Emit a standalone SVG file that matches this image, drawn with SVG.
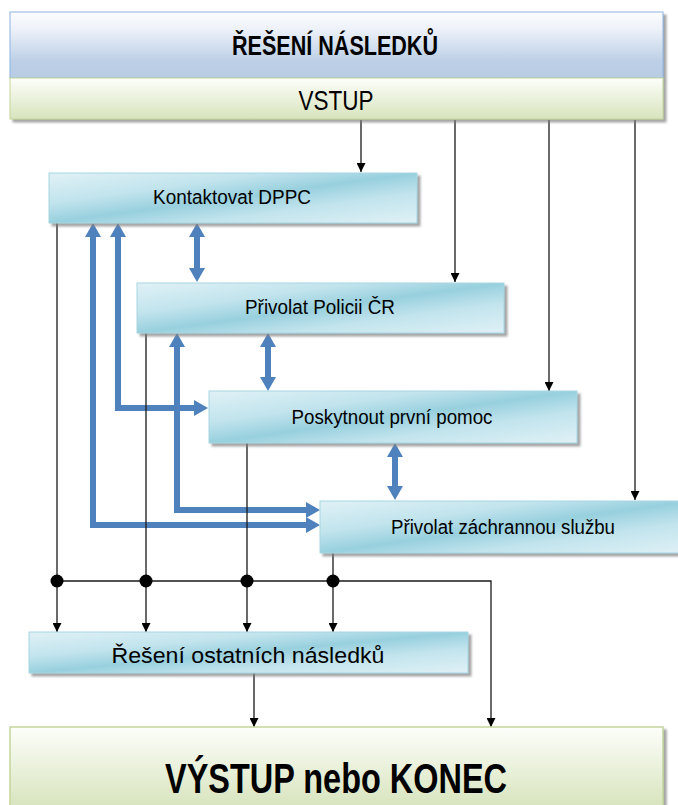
<svg xmlns="http://www.w3.org/2000/svg" width="678" height="805" viewBox="0 0 678 805">
<defs>
  <linearGradient id="gBlue" x1="0" y1="0" x2="0" y2="1">
    <stop offset="0" stop-color="#fbfcfe"/>
    <stop offset="0.25" stop-color="#eef2f9"/>
    <stop offset="0.75" stop-color="#bccfe6"/>
    <stop offset="1" stop-color="#b8cce4"/>
  </linearGradient>
  <linearGradient id="gGreen" x1="0" y1="0" x2="0" y2="1">
    <stop offset="0" stop-color="#fdfefa"/>
    <stop offset="1" stop-color="#d7e4bd"/>
  </linearGradient>
  <linearGradient id="gGreenBig" x1="0" y1="0" x2="0" y2="1">
    <stop offset="0" stop-color="#fdfefa"/>
    <stop offset="1" stop-color="#d3e1b6"/>
  </linearGradient>
  <linearGradient id="gTeal" x1="0" y1="0" x2="1" y2="1">
    <stop offset="0" stop-color="#e0f1f6"/>
    <stop offset="0.3" stop-color="#c2e4ed"/>
    <stop offset="0.5" stop-color="#98d0de"/>
    <stop offset="0.7" stop-color="#c2e4ed"/>
    <stop offset="1" stop-color="#e0f1f6"/>
  </linearGradient>
  <filter id="shadow" x="-5%" y="-20%" width="115%" height="150%">
    <feDropShadow dx="3" dy="3" stdDeviation="1" flood-color="#7f7f7f" flood-opacity="0.7"/>
  </filter>
  <marker id="ablk" viewBox="0 0 10 10" refX="10" refY="5" markerWidth="9" markerHeight="9" markerUnits="userSpaceOnUse" orient="auto">
    <path d="M0,0 L10,5 L0,10 z" fill="#000"/>
  </marker>
  <marker id="ablu" viewBox="0 0 14 16" refX="0" refY="8" markerWidth="14" markerHeight="16" markerUnits="userSpaceOnUse" orient="auto-start-reverse">
    <path d="M0,0 L14,8 L0,16 z" fill="#4f81bd"/>
  </marker>
  <style>
    .lbl { font-family: "Liberation Sans Narrow", "Liberation Sans", Arial, sans-serif; fill: #000; text-anchor: middle; }
    .teal { fill: url(#gTeal); stroke: #a5d5e2; stroke-width: 1; filter: url(#shadow); }
    .blk { fill: none; stroke: #1a1a1a; stroke-width: 1.3; }
    .blu { fill: none; stroke: #4f81bd; stroke-width: 6; stroke-linejoin: miter; }
    .dot { fill: #000; }
  </style>
</defs>

<g id="connectors">
  <!-- blue interaction arrows -->
  <path class="blu" d="M197,237 L197,268" marker-start="url(#ablu)" marker-end="url(#ablu)"/>
  <path class="blu" d="M268,347 L268,377" marker-start="url(#ablu)" marker-end="url(#ablu)"/>
  <path class="blu" d="M395,457 L395,486" marker-start="url(#ablu)" marker-end="url(#ablu)"/>
  <path class="blu" d="M93,237 L93,525 L306,525" marker-start="url(#ablu)" marker-end="url(#ablu)"/>
  <path class="blu" d="M118,237 L118,408 L194,408" marker-start="url(#ablu)" marker-end="url(#ablu)"/>
  <path class="blu" d="M177,347 L177,510 L306,510" marker-start="url(#ablu)" marker-end="url(#ablu)"/>
  <!-- black flow lines -->
  <path class="blk" d="M361,120 L361,172" marker-end="url(#ablk)"/>
  <path class="blk" d="M455,120 L455,282" marker-end="url(#ablk)"/>
  <path class="blk" d="M549,120 L549,391" marker-end="url(#ablk)"/>
  <path class="blk" d="M635,120 L635,500" marker-end="url(#ablk)"/>
  <path class="blk" d="M57,223 L57,632" marker-end="url(#ablk)"/>
  <path class="blk" d="M146,333 L146,632" marker-end="url(#ablk)"/>
  <path class="blk" d="M247,443 L247,632" marker-end="url(#ablk)"/>
  <path class="blk" d="M333,553 L333,632" marker-end="url(#ablk)"/>
  <path class="blk" d="M57,581 L491,581 L491,727" marker-end="url(#ablk)"/>
  <path class="blk" d="M254,673 L254,727" marker-end="url(#ablk)"/>
  <circle class="dot" cx="57" cy="581" r="6.5"/>
  <circle class="dot" cx="146" cy="581" r="6.5"/>
  <circle class="dot" cx="247" cy="581" r="6.5"/>
  <circle class="dot" cx="333" cy="581" r="6.5"/>
</g>

<g id="header">
  <g filter="url(#shadow)">
    <rect x="10" y="12" width="653" height="66" fill="url(#gBlue)" stroke="#8eb4e3" stroke-width="1"/>
    <rect x="10" y="78" width="653" height="41" fill="url(#gGreen)" stroke="#c3d69b" stroke-width="1"/>
  </g>
  <text class="lbl" x="335" y="55" font-size="27" font-weight="bold" textLength="206" lengthAdjust="spacingAndGlyphs">ŘEŠENÍ NÁSLEDKŮ</text>
  <text class="lbl" x="336" y="110" font-size="28" textLength="75" lengthAdjust="spacingAndGlyphs">VSTUP</text>
</g>

<g id="kontaktovat">
  <rect class="teal" x="49" y="173" width="368" height="50"/>
  <text class="lbl" x="232" y="204" font-size="20" textLength="158" lengthAdjust="spacingAndGlyphs">Kontaktovat DPPC</text>
</g>

<g id="policie">
  <rect class="teal" x="137" y="283" width="367" height="50"/>
  <text class="lbl" x="320" y="314" font-size="20" textLength="150" lengthAdjust="spacingAndGlyphs">Přivolat Policii ČR</text>
</g>

<g id="prvni-pomoc">
  <rect class="teal" x="209" y="391" width="368" height="52"/>
  <text class="lbl" x="392" y="424" font-size="20" textLength="201" lengthAdjust="spacingAndGlyphs">Poskytnout první pomoc</text>
</g>

<g id="zachranna">
  <rect class="teal" x="320" y="501" width="372" height="52"/>
  <text class="lbl" x="503" y="534" font-size="20" textLength="224" lengthAdjust="spacingAndGlyphs">Přivolat záchrannou službu</text>
</g>

<g id="ostatni">
  <rect class="teal" x="29" y="632" width="439" height="41"/>
  <text class="lbl" x="248" y="663" font-size="22" textLength="273" lengthAdjust="spacingAndGlyphs">Řešení ostatních následků</text>
</g>

<g id="vystup">
  <rect x="10" y="727" width="653" height="90" fill="url(#gGreenBig)" stroke="#c3d69b" stroke-width="1.5" filter="url(#shadow)"/>
  <text class="lbl" x="336" y="793" font-size="42" font-weight="bold" textLength="342" lengthAdjust="spacingAndGlyphs">VÝSTUP nebo KONEC</text>
</g>
</svg>
